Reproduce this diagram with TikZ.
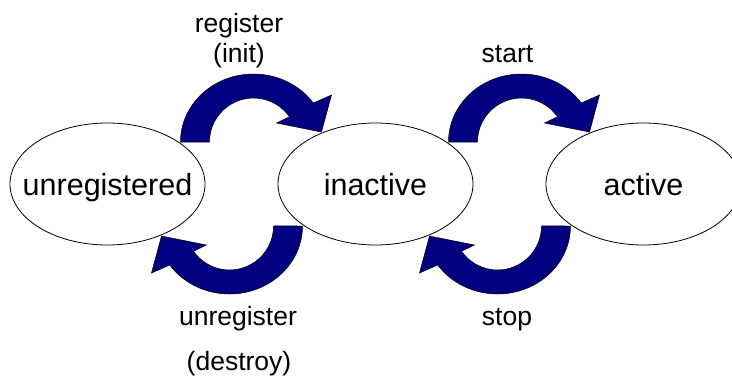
\documentclass[tikz,border=0pt]{standalone}
\usepackage{fontspec}
\setmainfont{Liberation Sans}
\usetikzlibrary{shapes.geometric,calc}
\definecolor{navyarrow}{HTML}{000080}
\begin{document}
\begin{tikzpicture}[x=1pt,y=-1pt,
  state/.style={ellipse, draw=black, line width=0.8pt, fill=white,
    inner sep=0pt, minimum width=195pt, minimum height=122pt},
  statetext/.style={font=\fontsize{30.5}{36}\selectfont, anchor=base, inner sep=0pt},
  edgetext/.style={font=\fontsize{26.5}{32}\selectfont, anchor=base, inner sep=0pt},
  % curved block arrow, drawn around its pivot; rotate by 180 for the return arrow
  bendarrow/.pic={
    \path[fill=navyarrow, draw=black, line width=0.5pt, line join=miter]
      (-61,-42) arc[start angle=180, end angle=325, x radius=73, y radius=68]
      -- (90,-89) -- (80,-52) -- (35,-61) -- (48.0,-67.2)
      arc[start angle=325, end angle=180, radius=44] -- cycle;
  }]
  \useasboundingbox (0,0) rectangle (732,376);
  \clip (0,0) rectangle (732,376);

  % states
  \node[state] (u) at (107.5,184) {};
  \node[state] (i) at (375.5,184) {};
  \node[state] (a) at (643.5,184) {};
  \node[statetext] (ut) at ([yshift=-11pt]u.center) {unregistered};
  \node[statetext] (it) at ([yshift=-11pt]i.center) {inactive};
  \node[statetext] (at) at ([yshift=-11pt]a.center) {active};

  % transitions
  \coordinate (m1) at ($(u)!0.5!(i)$);
  \coordinate (m2) at ($(i)!0.5!(a)$);
  \pic at (m1) {bendarrow};
  \pic[rotate=180] at (m1) {bendarrow};
  \pic at (m2) {bendarrow};
  \pic[rotate=180] at (m2) {bendarrow};

  % transition labels
  \node[edgetext] (l1) at (239,32) {register};
  \node[edgetext] (l1b) at (239,62) {(init)};
  \node[edgetext] (l2) at (507.5,62) {start};
  \node[edgetext] (l3) at (238,325) {unregister};
  \node[edgetext] (l3b) at (239,370) {(destroy)};
  \node[edgetext] (l4) at (507,325) {stop};
\end{tikzpicture}
\end{document}
